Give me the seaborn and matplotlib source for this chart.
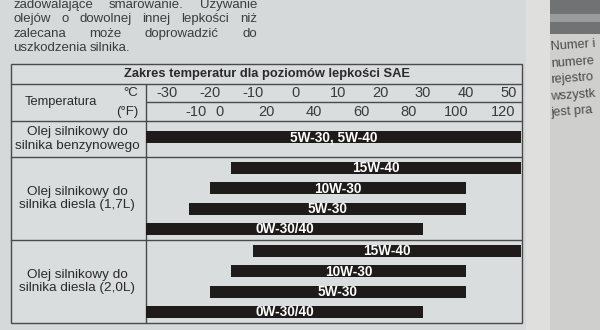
import numpy as np
import pandas as pd
import matplotlib
matplotlib.use("Agg")
import matplotlib.pyplot as plt
from matplotlib.patches import Rectangle
import seaborn as sns

# ---------------- data ----------------
title = "Zakres temperatur dla poziomów lepkości SAE"
temp_label = "Temperatura"
celsius_ticks = [-30, -20, -10, 0, 10, 20, 30, 40, 50]
fahrenheit_ticks = [-10, 0, 20, 40, 60, 80, 100, 120]
engine_types = ["Olej silnikowy do\nsilnika benzynowego",
                "Olej silnikowy do\nsilnika diesla (1,7L)",
                "Olej silnikowy do\nsilnika diesla (2,0L)"]
bar_engine = [0, 1, 1, 1, 1, 2, 2, 2, 2]
bar_grades = ["5W-30, 5W-40", "15W-40", "10W-30", "5W-30", "0W-30/40",
              "15W-40", "10W-30", "5W-30", "0W-30/40"]
bar_low = [-35, -15, -20, -25, -35, -10, -15, -20, -35]
bar_high = [53, 53, 40, 40, 30, 53, 40, 40, 30]

paragraph = ["zadowalające smarowanie. Używanie",
             "olejów o dowolnej innej lepkości niż",
             "zalecana może doprowadzić do",
             "uszkodzenia silnika."]
right_page = ["Numer i", "numere", "rejestro", "wszystk", "jest pra"]

# ---------------- layout ----------------
W, H = 600, 330
TBL_L, TBL_R, TBL_T, TBL_B = 11, 522, 64, 323
COL_X = 146
Y_TITLE = 84
Y_CF = 102
Y_HDR = 121
ROW_TOPS = [121, 157, 240, 323]
BAR_H = 12
BAR_STEP = 20.3
BAR_OFF = 11
X_MIN, X_MAX = -35, 53

BG = "#d5d9da"
TBL_BG = "#dadddd"
LINE_C = "#4a4a4a"
BAR_C = "#1f1b1b"
TXT_C = "#2a2a2a"

sns.set_theme(style="white")
plt.rcParams["font.family"] = ["Liberation Sans", "DejaVu Sans"]

fig = plt.figure(figsize=(W / 100, H / 100), dpi=100, facecolor=BG)

# overlay axes in pixel coordinates
ax0 = fig.add_axes([0, 0, 1, 1])
ax0.set_xlim(0, W)
ax0.set_ylim(H, 0)
ax0.axis("off")
ax0.set_zorder(0)

# page background pieces
ax0.add_patch(Rectangle((TBL_L, TBL_T), TBL_R - TBL_L, TBL_B - TBL_T, color=TBL_BG, lw=0))
ax0.add_patch(Rectangle((526, 0), 24, H, color="#dfe0dd", lw=0))
ax0.add_patch(Rectangle((550, 0), 50, H, color="#cfd0ce", lw=0))
ax0.add_patch(Rectangle((550, 0), 50, 34, color="#707273", lw=0))
ax0.add_patch(Rectangle((550, 14), 50, 8, color="#9a9c9c", lw=0))

# table lines
lw = 1.0
ax0.add_patch(Rectangle((TBL_L, TBL_T), TBL_R - TBL_L, TBL_B - TBL_T,
                        fill=False, edgecolor=LINE_C, lw=lw))
for y in [Y_TITLE, Y_HDR] + ROW_TOPS[1:-1]:
    ax0.plot([TBL_L, TBL_R], [y, y], color=LINE_C, lw=lw)
ax0.plot([COL_X, TBL_R], [Y_CF, Y_CF], color=LINE_C, lw=lw)
ax0.plot([COL_X, COL_X], [Y_TITLE, TBL_B], color=LINE_C, lw=lw)

# header texts
ax0.text((TBL_L + TBL_R) / 2, (TBL_T + Y_TITLE) / 2 + 0.5, title, ha="center", va="center",
         fontsize=9.3, fontweight="bold", color=TXT_C)
ax0.text(61, (Y_TITLE + Y_HDR) / 2, temp_label, ha="center", va="center",
         fontsize=9.3, color=TXT_C)
ax0.text(138, (Y_TITLE + Y_CF) / 2, "°C", ha="right", va="center", fontsize=9.5, color=TXT_C)
ax0.text(138, (Y_CF + Y_HDR) / 2, "(°F)", ha="right", va="center", fontsize=9.5, color=TXT_C)

for i, lab in enumerate(engine_types):
    yc = (ROW_TOPS[i] + ROW_TOPS[i + 1]) / 2
    ax0.text(77, yc, lab, ha="center", va="center", fontsize=9.7,
             color=TXT_C, linespacing=1.15, multialignment="center")

# justified paragraph
renderer = fig.canvas.get_renderer()
PX0, PX1 = 13, 257
for li, line in enumerate(paragraph):
    y = 5 + li * 14.4
    words = line.split(" ")
    texts = [ax0.text(0, y, w, ha="left", va="center", fontsize=9.5, color="#3c3c3c")
             for w in words]
    widths = [t.get_window_extent(renderer).width for t in texts]
    if li < len(paragraph) - 1 and len(words) > 1:
        gap = (PX1 - PX0 - sum(widths)) / (len(words) - 1)
    else:
        gap = 3.0
    x = PX0
    for t, wd in zip(texts, widths):
        t.set_x(x)
        x += wd + gap

# right page text
for i, s in enumerate(right_page):
    ax0.text(551, 47 + i * 16.6, s, ha="left", va="center", fontsize=9.2,
             color="#4a4a4a", rotation=4, rotation_mode="anchor")

# ---------------- bars ----------------
ypos = []
counts = {}
for e in bar_engine:
    k = counts.get(e, 0)
    counts[e] = k + 1
    n_in = bar_engine.count(e)
    top, bot = ROW_TOPS[e], ROW_TOPS[e + 1]
    if n_in == 1:
        ypos.append((top + bot) / 2 - 2)
    else:
        ypos.append(top + BAR_OFF + k * BAR_STEP)

df = pd.DataFrame({"grade": bar_grades, "low": bar_low, "high": bar_high, "y": ypos})

axb = fig.add_axes([COL_X / W, 1 - TBL_B / H, (TBL_R - 1 - COL_X) / W, (TBL_B - Y_TITLE) / H])
axb.set_zorder(2)
axb.patch.set_alpha(0)
sns.barplot(data=df, x="high", y="y", orient="h", native_scale=True, color=BAR_C,
            saturation=1, errorbar=None, linewidth=0, ax=axb)
for p in axb.patches:
    yc = p.get_y() + p.get_height() / 2
    i = int(np.argmin(np.abs(np.array(ypos) - yc)))
    p.set_x(bar_low[i])
    p.set_width(bar_high[i] - bar_low[i])
    p.set_y(ypos[i] - BAR_H / 2)
    p.set_height(BAR_H)

axb.set_xlim(X_MIN, X_MAX)
axb.set_ylim(TBL_B, Y_TITLE)
axb.axis("off")

for g, lo, hi, y in zip(bar_grades, bar_low, bar_high, ypos):
    axb.text((lo + hi) / 2, y + 0.3, g, ha="center", va="center", color="white",
             fontsize=9.8, fontweight="bold",
             family=["Liberation Sans Narrow", "Liberation Sans", "DejaVu Sans"])

# temperature scales
for c in celsius_ticks:
    axb.text(c, (Y_TITLE + Y_CF) / 2, str(c), ha="center", va="center",
             fontsize=10.5, color="#3a3a3a")
for f in fahrenheit_ticks:
    axb.text((f - 32) * 5 / 9, (Y_CF + Y_HDR) / 2, str(f), ha="center", va="center",
             fontsize=10.5, color="#3a3a3a")

fig.savefig("out.png", dpi=100, facecolor=fig.get_facecolor())
